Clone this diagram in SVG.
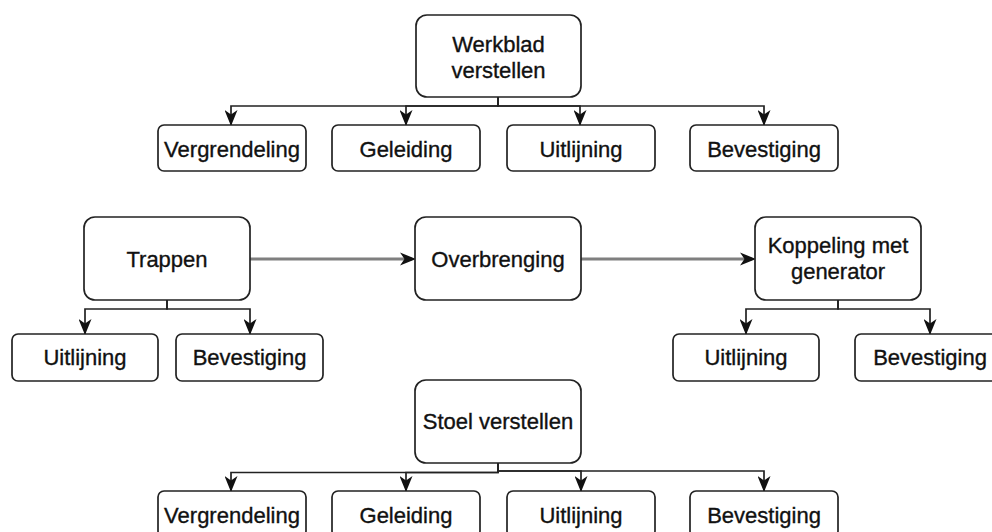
<svg xmlns="http://www.w3.org/2000/svg" width="992" height="532" viewBox="0 0 992 532">
<style>
.box{fill:#fff;stroke:#222;stroke-width:1.7}
.t{font-family:"Liberation Sans",Arial,sans-serif;font-size:22px;fill:#111;stroke:#111;stroke-width:0.35;text-anchor:middle}
.e{fill:none;stroke:#222;stroke-width:1.7}
.g{fill:none;stroke:#7f7f7f;stroke-width:3}
</style>
<defs>
<marker id="arr" markerUnits="userSpaceOnUse" markerWidth="16" markerHeight="13" refX="15" refY="6.5" orient="auto" viewBox="0 0 16 13">
<path d="M0,0 L16,6.5 L0,13 L4.5,6.5 Z" fill="#111"/>
</marker>
</defs>
<rect width="992" height="532" fill="#fff"/>
<g id="connectors">
<path class="e" d="M498,97 V106 H231 V125" marker-end="url(#arr)"/>
<path class="e" d="M498,97 V106 H406 V125" marker-end="url(#arr)"/>
<path class="e" d="M498,97 V106 H580 V125" marker-end="url(#arr)"/>
<path class="e" d="M498,97 V106 H764 V125" marker-end="url(#arr)"/>
<path class="g" d="M250,259 H412"/>
<path d="M400,252.5 L416,259 L400,265.5 L404.5,259 Z" fill="#111"/>
<path class="g" d="M581,259 H752"/>
<path d="M740,252.5 L756,259 L740,265.5 L744.5,259 Z" fill="#111"/>
<path class="e" d="M167,300 V309 H85 V334" marker-end="url(#arr)"/>
<path class="e" d="M167,300 V309 H250 V334" marker-end="url(#arr)"/>
<path class="e" d="M838,300 V309 H746 V334" marker-end="url(#arr)"/>
<path class="e" d="M838,300 V309 H930 V334" marker-end="url(#arr)"/>
<path class="e" d="M498,463 V472.5 H231 V491" marker-end="url(#arr)"/>
<path class="e" d="M498,463 V472.5 H406 V491" marker-end="url(#arr)"/>
<path class="e" d="M498,463 V471 H581 V491" marker-end="url(#arr)"/>
<path class="e" d="M498,463 V471 H764 V491" marker-end="url(#arr)"/>
</g>
<g id="werkblad"><rect class="box" x="416" y="15" width="165" height="82" rx="11"/><text class="t" x="498.5" y="52">Werkblad</text><text class="t" x="498.5" y="78">verstellen</text></g>
<g id="w-vergrendeling"><rect class="box" x="158" y="125" width="148" height="46" rx="6"/><text class="t" x="232" y="157">Vergrendeling</text></g>
<g id="w-geleiding"><rect class="box" x="332" y="125" width="148" height="46" rx="6"/><text class="t" x="406" y="157">Geleiding</text></g>
<g id="w-uitlijning"><rect class="box" x="507" y="125" width="148" height="46" rx="6"/><text class="t" x="581" y="157">Uitlijning</text></g>
<g id="w-bevestiging"><rect class="box" x="690" y="125" width="148" height="46" rx="6"/><text class="t" x="764" y="157">Bevestiging</text></g>
<g id="trappen"><rect class="box" x="84" y="217" width="166" height="83" rx="11"/><text class="t" x="167" y="267">Trappen</text></g>
<g id="overbrenging"><rect class="box" x="415" y="217" width="166" height="83" rx="11"/><text class="t" x="498" y="267">Overbrenging</text></g>
<g id="koppeling"><rect class="box" x="755" y="217" width="166" height="83" rx="11"/><text class="t" x="838" y="253">Koppeling met</text><text class="t" x="838" y="279">generator</text></g>
<g id="t-uitlijning"><rect class="box" x="12" y="334" width="146" height="47" rx="6"/><text class="t" x="85" y="365">Uitlijning</text></g>
<g id="t-bevestiging"><rect class="box" x="176" y="334" width="147" height="47" rx="6"/><text class="t" x="249.5" y="365">Bevestiging</text></g>
<g id="k-uitlijning"><rect class="box" x="673" y="334" width="146" height="47" rx="6"/><text class="t" x="746" y="365">Uitlijning</text></g>
<g id="k-bevestiging"><rect class="box" x="855" y="334" width="150" height="47" rx="6"/><text class="t" x="930" y="365">Bevestiging</text></g>
<g id="stoel"><rect class="box" x="415" y="380" width="166" height="83" rx="11"/><text class="t" x="498" y="429">Stoel verstellen</text></g>
<g id="s-vergrendeling"><rect class="box" x="158" y="491" width="148" height="46" rx="6"/><text class="t" x="232" y="523">Vergrendeling</text></g>
<g id="s-geleiding"><rect class="box" x="332" y="491" width="148" height="46" rx="6"/><text class="t" x="406" y="523">Geleiding</text></g>
<g id="s-uitlijning"><rect class="box" x="507" y="491" width="148" height="46" rx="6"/><text class="t" x="581" y="523">Uitlijning</text></g>
<g id="s-bevestiging"><rect class="box" x="690" y="491" width="148" height="46" rx="6"/><text class="t" x="764" y="523">Bevestiging</text></g>
</svg>
